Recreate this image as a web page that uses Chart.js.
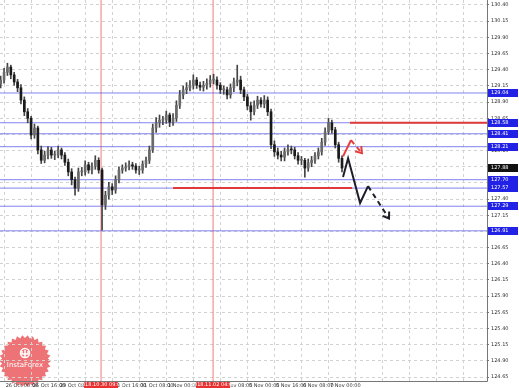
<!DOCTYPE html>
<html>
<head>
    <title>USDJPY H1</title>
    <style>
        body { margin: 0; background: #fff; }
        canvas { display: block; }
    </style>
</head>
<body>
    <canvas id="chartId" width="519" height="388"></canvas>

    <script src="https://cdn.jsdelivr.net/npm/chart.js@4/dist/chart.umd.min.js"></script>

    <script>
        // candles are 2 hour bars, x is trading hours from 26 Oct 00:00
        const candleStartHour = -2;
        const candleStepHours = 2;

        const opens = [129.18,129.24,129.36,129.44,129.32,129.21,129.12,128.93,128.75,128.65,
            128.39,128.50,128.16,128.00,128.08,128.16,128.08,128.08,128.16,128.08,
            127.97,127.82,127.70,127.57,127.82,127.82,127.93,127.85,127.91,128.00,
            127.85,127.31,127.46,127.59,127.54,127.70,127.85,127.88,127.90,127.93,
            127.91,127.85,127.85,127.94,128.00,128.16,128.50,128.58,128.62,128.62,
            128.70,128.59,128.65,128.85,129.01,129.09,129.12,129.16,129.24,129.16,
            129.13,129.16,129.19,129.24,129.24,129.16,129.09,129.09,129.01,129.12,
            129.21,129.24,129.09,128.98,128.84,128.75,128.85,128.93,128.87,128.93,
            128.75,128.24,128.13,128.08,128.05,128.13,128.17,128.16,128.07,128.00,
            128.00,127.88,127.96,128.00,128.07,128.13,128.28,128.44,128.58,128.47,
            128.24,128.03];
        const highs = [129.30,129.42,129.50,129.47,129.36,129.25,129.17,128.98,128.80,128.68,
            128.56,128.53,128.22,128.14,128.21,128.20,128.14,128.22,128.19,128.12,
            128.02,127.87,127.74,127.88,127.89,127.99,127.97,127.96,128.07,128.04,
            127.88,127.52,127.66,127.64,127.76,127.90,127.93,127.96,127.99,127.97,
            127.95,127.91,127.99,128.05,128.22,128.56,128.66,128.70,128.68,128.76,
            128.73,128.72,128.92,129.08,129.15,129.20,129.23,129.32,129.28,129.21,
            129.22,129.26,129.31,129.33,129.29,129.20,129.15,129.13,129.18,129.27,
            129.47,129.30,129.13,129.02,128.90,128.92,128.99,128.97,129.00,128.98,
            128.79,128.30,128.19,128.14,128.19,128.24,128.22,128.20,128.12,128.06,
            128.03,128.02,128.06,128.12,128.19,128.34,128.50,128.65,128.62,128.51,
            128.28,128.07];
        const lows = [129.12,129.19,129.31,129.26,129.16,129.06,128.87,128.69,128.58,128.33,
            128.34,128.10,127.95,127.96,128.02,128.03,128.01,128.04,128.02,127.92,
            127.76,127.62,127.46,127.52,127.76,127.77,127.80,127.79,127.86,127.80,
            126.92,127.24,127.40,127.47,127.49,127.65,127.80,127.83,127.85,127.86,
            127.80,127.78,127.80,127.89,127.95,128.12,128.43,128.51,128.55,128.57,
            128.52,128.54,128.60,128.80,128.95,129.03,129.07,129.10,129.11,129.08,
            129.07,129.10,129.13,129.18,129.10,129.03,129.02,128.95,128.96,129.06,
            129.15,129.03,128.92,128.78,128.62,128.70,128.80,128.82,128.81,128.69,
            128.18,128.06,128.02,127.99,127.99,128.08,128.10,128.02,127.94,127.93,
            127.74,127.83,127.90,127.95,128.02,128.08,128.23,128.40,128.42,128.19,
            127.97,127.82];
        const closes = [129.24,129.36,129.44,129.32,129.21,129.12,128.93,128.75,128.65,128.39,
            128.50,128.16,128.00,128.08,128.16,128.08,128.08,128.16,128.08,127.97,
            127.82,127.70,127.57,127.82,127.82,127.93,127.85,127.91,128.00,127.85,
            127.31,127.46,127.59,127.54,127.70,127.85,127.88,127.90,127.93,127.91,
            127.85,127.85,127.94,128.00,128.16,128.50,128.58,128.62,128.62,128.70,
            128.59,128.65,128.85,129.01,129.09,129.12,129.16,129.24,129.16,129.13,
            129.16,129.19,129.24,129.24,129.16,129.09,129.09,129.01,129.12,129.21,
            129.24,129.09,128.98,128.84,128.75,128.85,128.93,128.87,128.93,128.75,
            128.24,128.13,128.08,128.05,128.13,128.17,128.16,128.07,128.00,128.00,
            127.88,127.96,128.00,128.07,128.13,128.28,128.44,128.58,128.47,128.24,
            128.03,127.88];

        const xTickLabels = ['26 Oct 00:00', '26 Oct 16:00', '29 Oct 08:00', '30 Oct 00:00', '30 Oct 16:00',
            '31 Oct 08:00', '1 Nov 00:00', '1 Nov 16:00', '2 Nov 08:00', '5 Nov 00:00', '5 Nov 16:00',
            '6 Nov 08:00', '7 Nov 00:00'];
        const xTickStep = 16;
        const yTickValues = [130.40, 130.15, 129.90, 129.65, 129.40, 129.15, 128.90, 128.65, 128.40, 128.15,
            127.90, 127.65, 127.40, 127.15, 126.90, 126.65, 126.40, 126.15, 125.90, 125.65, 125.40,
            125.15, 124.90, 124.65];

        // support / resistance levels (blue), current price
        const levelPrices = [129.04, 128.58, 128.41, 128.21, 127.70, 127.57, 127.29, 126.91];
        const currentPrice = 127.88;

        // red horizontal segments
        const redLevelPrices = [128.58, 127.57];
        const redLevelFrom = [204.7, 100];
        const redLevelTo = [285.8, 206];

        // red vertical markers
        const markerHours = [57.4, 123.7];
        const markerLabels = ['2018.10.30 09:00', '2018.11.02 04:00'];

        // forecast paths
        const mainPathHours = [200.6, 203.6, 210.7, 215.4, 227.8];
        const mainPathPrices = [127.74, 128.03, 127.34, 127.60, 127.10];
        const altPathHours = [200.6, 205.3, 211.8];
        const altPathPrices = [128.06, 128.31, 128.11];

        const xMin = -2.4, xMax = 285.8;
        const yMin = 124.589, yMax = 130.477;

        const candleHour = i => candleStartHour + i * candleStepHours;
        const wickData = opens.map((o, i) => ({ x: candleHour(i), y: [lows[i], highs[i]] }));
        const bodyData = opens.map((o, i) => ({ x: candleHour(i), y: [o, closes[i]] }));
        const bodyColors = opens.map((o, i) => closes[i] >= o ? '#6a6a6a' : '#1a1a1a');

        const datasets = [
            { type: 'bar', data: wickData, backgroundColor: '#444', barThickness: 1, grouped: false, order: 2 },
            { type: 'bar', data: bodyData, backgroundColor: bodyColors, barThickness: 2, minBarLength: 1, grouped: false, order: 1 }
        ];
        levelPrices.forEach(p => datasets.push({
            type: 'line', data: [{ x: xMin, y: p }, { x: xMax, y: p }],
            borderColor: 'rgba(90,90,235,0.75)', borderWidth: 1, pointRadius: 0, order: 5
        }));
        markerHours.forEach(h => datasets.push({
            type: 'line', data: [{ x: h, y: yMin }, { x: h, y: yMax }],
            borderColor: 'rgba(240,110,110,0.9)', borderWidth: 1, pointRadius: 0, order: 6
        }));
        redLevelPrices.forEach((p, i) => datasets.push({
            type: 'line', data: [{ x: redLevelFrom[i], y: p }, { x: redLevelTo[i], y: p }],
            borderColor: '#e03a3a', borderWidth: 2, pointRadius: 0, order: 4
        }));
        datasets.push({
            type: 'line', data: mainPathHours.map((h, i) => ({ x: h, y: mainPathPrices[i] })),
            borderColor: '#1e1e2a', borderWidth: 2, pointRadius: 0, order: 0,
            segment: { borderDash: c => c.p0DataIndex >= 3 ? [5, 4] : undefined }
        });
        datasets.push({
            type: 'line', data: altPathHours.map((h, i) => ({ x: h, y: altPathPrices[i] })),
            borderColor: '#e83c3c', borderWidth: 2, pointRadius: 0, order: 0,
            segment: { borderDash: c => c.p0DataIndex >= 1 ? [5, 4] : undefined }
        });

        function arrowHead(ctx, x0, y0, x1, y1, color) {
            const a = Math.atan2(y1 - y0, x1 - x0);
            ctx.save();
            ctx.strokeStyle = color;
            ctx.lineWidth = 2;
            ctx.beginPath();
            ctx.moveTo(x1 - 7 * Math.cos(a - 0.6), y1 - 7 * Math.sin(a - 0.6));
            ctx.lineTo(x1, y1);
            ctx.lineTo(x1 - 7 * Math.cos(a + 0.6), y1 - 7 * Math.sin(a + 0.6));
            ctx.stroke();
            ctx.restore();
        }

        function priceBox(ctx, y, text, color) {
            ctx.fillStyle = color;
            ctx.fillRect(488, Math.round(y) - 4, 30, 8);
            ctx.fillStyle = '#fff';
            ctx.font = '5px "DejaVu Sans"';
            ctx.textAlign = 'left';
            ctx.textBaseline = 'middle';
            ctx.fillText(text, 491, Math.round(y));
        }

        const overlay = {
            id: 'overlay',
            beforeDraw(chart) {
                const ctx = chart.ctx;
                ctx.save();
                ctx.fillStyle = '#fff';
                ctx.fillRect(0, 0, chart.width, chart.height);
                // InstaForex badge
                const cx = 25, cy = 361, n = 30;
                ctx.fillStyle = 'rgba(236,96,100,0.88)';
                ctx.beginPath();
                for (let i = 0; i < n * 2; i++) {
                    const r = i % 2 ? 23 : 26;
                    const a = i * Math.PI / n;
                    ctx.lineTo(cx + r * Math.cos(a), cy + r * Math.sin(a));
                }
                ctx.closePath();
                ctx.fill();
                ctx.strokeStyle = '#fff';
                ctx.lineWidth = 1.5;
                ctx.beginPath();
                ctx.arc(cx, cy - 8, 4.5, 0, Math.PI * 2);
                ctx.stroke();
                ctx.beginPath();
                ctx.moveTo(cx, cy - 11); ctx.lineTo(cx, cy - 3);
                ctx.moveTo(cx - 3, cy - 10); ctx.lineTo(cx - 3, cy - 7); ctx.lineTo(cx + 3, cy - 7); ctx.lineTo(cx + 3, cy - 10);
                ctx.stroke();
                ctx.fillStyle = '#fff';
                ctx.font = '7px "DejaVu Sans"';
                ctx.textAlign = 'center';
                ctx.textBaseline = 'middle';
                ctx.fillText('InstaForex', cx, cy + 4);
                ctx.restore();
            },
            afterDraw(chart) {
                const ctx = chart.ctx;
                const xs = chart.scales.x, ys = chart.scales.y;
                ctx.save();
                // axis frame, solid
                ctx.strokeStyle = '#777';
                ctx.lineWidth = 1;
                ctx.beginPath();
                ctx.moveTo(chart.chartArea.left, chart.chartArea.bottom + 0.5);
                ctx.lineTo(chart.chartArea.right + 0.5, chart.chartArea.bottom + 0.5);
                ctx.lineTo(chart.chartArea.right + 0.5, chart.chartArea.top);
                ctx.stroke();
                levelPrices.forEach(p => priceBox(ctx, ys.getPixelForValue(p), p.toFixed(2), '#2222e6'));
                priceBox(ctx, ys.getPixelForValue(currentPrice), currentPrice.toFixed(2), '#111');
                markerHours.forEach((h, i) => {
                    const x = xs.getPixelForValue(h);
                    ctx.fillStyle = '#e83030';
                    ctx.fillRect(x - 17, 382, 34, 6);
                    ctx.fillStyle = '#fff';
                    ctx.font = '5px "DejaVu Sans"';
                    ctx.textAlign = 'center';
                    ctx.textBaseline = 'middle';
                    ctx.fillText(markerLabels[i], x, 385);
                });
                const n = mainPathHours.length;
                arrowHead(ctx, xs.getPixelForValue(mainPathHours[n - 2]), ys.getPixelForValue(mainPathPrices[n - 2]),
                    xs.getPixelForValue(mainPathHours[n - 1]), ys.getPixelForValue(mainPathPrices[n - 1]), '#1e1e2a');
                const m = altPathHours.length;
                arrowHead(ctx, xs.getPixelForValue(altPathHours[m - 2]), ys.getPixelForValue(altPathPrices[m - 2]),
                    xs.getPixelForValue(altPathHours[m - 1]), ys.getPixelForValue(altPathPrices[m - 1]), '#e83c3c');
                ctx.restore();
            }
        };

        var chrt = document.getElementById('chartId').getContext('2d');
        var chartId = new Chart(chrt, {
            type: 'bar',
            data: { datasets: datasets },
            plugins: [overlay],
            options: {
                responsive: false,
                animation: false,
                layout: { padding: 0 },
                plugins: { legend: { display: false }, tooltip: { enabled: false } },
                scales: {
                    x: {
                        type: 'linear',
                        min: xMin,
                        max: xMax,
                        offset: false,
                        afterBuildTicks: s => {
                            const t = [];
                            for (let h = 0; h <= xMax; h += xTickStep) t.push({ value: h });
                            s.ticks = t;
                        },
                        afterFit: s => { s.height = 7; s.paddingLeft = 0; s.paddingRight = 0; },
                        grid: { offset: false, color: '#d2d2d2', lineWidth: 1, drawTicks: false },
                        border: { display: false, dash: [3, 3] },
                        ticks: {
                            autoSkip: false,
                            maxRotation: 0,
                            align: 'start',
                            padding: 2,
                            color: '#333',
                            font: { family: 'DejaVu Sans', size: 5 },
                            callback: (v, i) => xTickLabels[i] ? ' ' + xTickLabels[i] : ''
                        }
                    },
                    y: {
                        position: 'right',
                        min: yMin,
                        max: yMax,
                        afterBuildTicks: s => { s.ticks = yTickValues.map(v => ({ value: v })); },
                        afterFit: s => { s.width = 32; s.paddingTop = 0; s.paddingBottom = 0; },
                        grid: { color: '#d2d2d2', lineWidth: 1, tickLength: 2, tickColor: '#777' },
                        border: { display: false, dash: [3, 3] },
                        ticks: {
                            padding: 2,
                            color: '#333',
                            font: { family: 'DejaVu Sans', size: 5 },
                            callback: v => v.toFixed(2)
                        }
                    }
                }
            }
        });
    </script>
</body>
</html>
